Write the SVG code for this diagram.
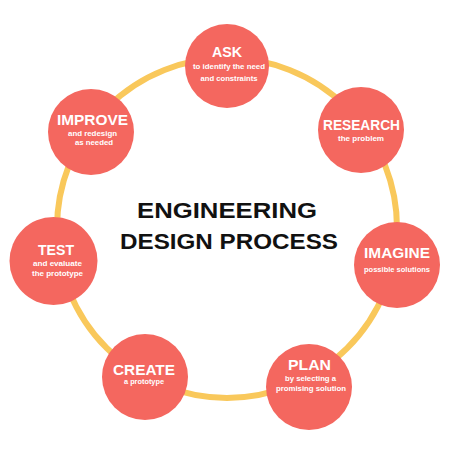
<svg xmlns="http://www.w3.org/2000/svg" width="451" height="451" viewBox="0 0 451 451">
<style>
.node circle{fill:#F4675F}
.t{font-family:"Liberation Sans",Arial,sans-serif;font-weight:bold;fill:#fff;text-anchor:middle;font-size:14px}
.s{font-family:"Liberation Sans",Arial,sans-serif;font-weight:bold;fill:#fff;text-anchor:middle;font-size:8px}
.h{font-family:"Liberation Sans",Arial,sans-serif;font-weight:bold;fill:#111;text-anchor:middle;font-size:21.5px}
</style>
<rect width="451" height="451" fill="#fff"/>
<g id="connectors">
<circle cx="227" cy="228" r="170" fill="none" stroke="#F9C85B" stroke-width="6"/>
</g>
<g id="title">
<text class="h" x="227" y="218" textLength="180" lengthAdjust="spacingAndGlyphs">ENGINEERING</text>
<text class="h" x="229" y="249" textLength="218" lengthAdjust="spacingAndGlyphs">DESIGN PROCESS</text>
</g>
<g id="ask" class="node">
<circle cx="227" cy="66" r="42"/>
<text class="t" x="227" y="57" textLength="30" lengthAdjust="spacingAndGlyphs">ASK</text>
<text class="s" x="229" y="69" textLength="72" lengthAdjust="spacingAndGlyphs">to identify the need</text>
<text class="s" x="229" y="81" textLength="57" lengthAdjust="spacingAndGlyphs">and constraints</text>
</g>
<g id="research" class="node">
<circle cx="361" cy="130" r="43"/>
<text class="t" x="361.5" y="130" textLength="77" lengthAdjust="spacingAndGlyphs">RESEARCH</text>
<text class="s" x="361" y="141" textLength="46" lengthAdjust="spacingAndGlyphs">the problem</text>
</g>
<g id="imagine" class="node">
<circle cx="397" cy="265" r="43"/>
<text class="t" x="397" y="258" textLength="66" lengthAdjust="spacingAndGlyphs">IMAGINE</text>
<text class="s" x="397" y="272" textLength="66" lengthAdjust="spacingAndGlyphs">possible solutions</text>
</g>
<g id="plan" class="node">
<circle cx="309" cy="387" r="43"/>
<text class="t" x="309.5" y="370" textLength="43" lengthAdjust="spacingAndGlyphs">PLAN</text>
<text class="s" x="310.5" y="381" textLength="51" lengthAdjust="spacingAndGlyphs">by selecting a</text>
<text class="s" x="311" y="391" textLength="70" lengthAdjust="spacingAndGlyphs">promising solution</text>
</g>
<g id="create" class="node">
<circle cx="145" cy="377" r="43"/>
<text class="t" x="144" y="375" textLength="62" lengthAdjust="spacingAndGlyphs">CREATE</text>
<text class="s" x="144" y="384" textLength="40" lengthAdjust="spacingAndGlyphs">a prototype</text>
</g>
<g id="test" class="node">
<circle cx="53.5" cy="261" r="44"/>
<text class="t" x="56" y="255" textLength="36" lengthAdjust="spacingAndGlyphs">TEST</text>
<text class="s" x="57.5" y="266" textLength="49" lengthAdjust="spacingAndGlyphs">and evaluate</text>
<text class="s" x="57.5" y="276" textLength="51" lengthAdjust="spacingAndGlyphs">the prototype</text>
</g>
<g id="improve" class="node">
<circle cx="91" cy="132" r="43"/>
<text class="t" x="92.5" y="125" textLength="71" lengthAdjust="spacingAndGlyphs">IMPROVE</text>
<text class="s" x="92.5" y="136" textLength="49" lengthAdjust="spacingAndGlyphs">and redesign</text>
<text class="s" x="94" y="145" textLength="38" lengthAdjust="spacingAndGlyphs">as needed</text>
</g>
</svg>
